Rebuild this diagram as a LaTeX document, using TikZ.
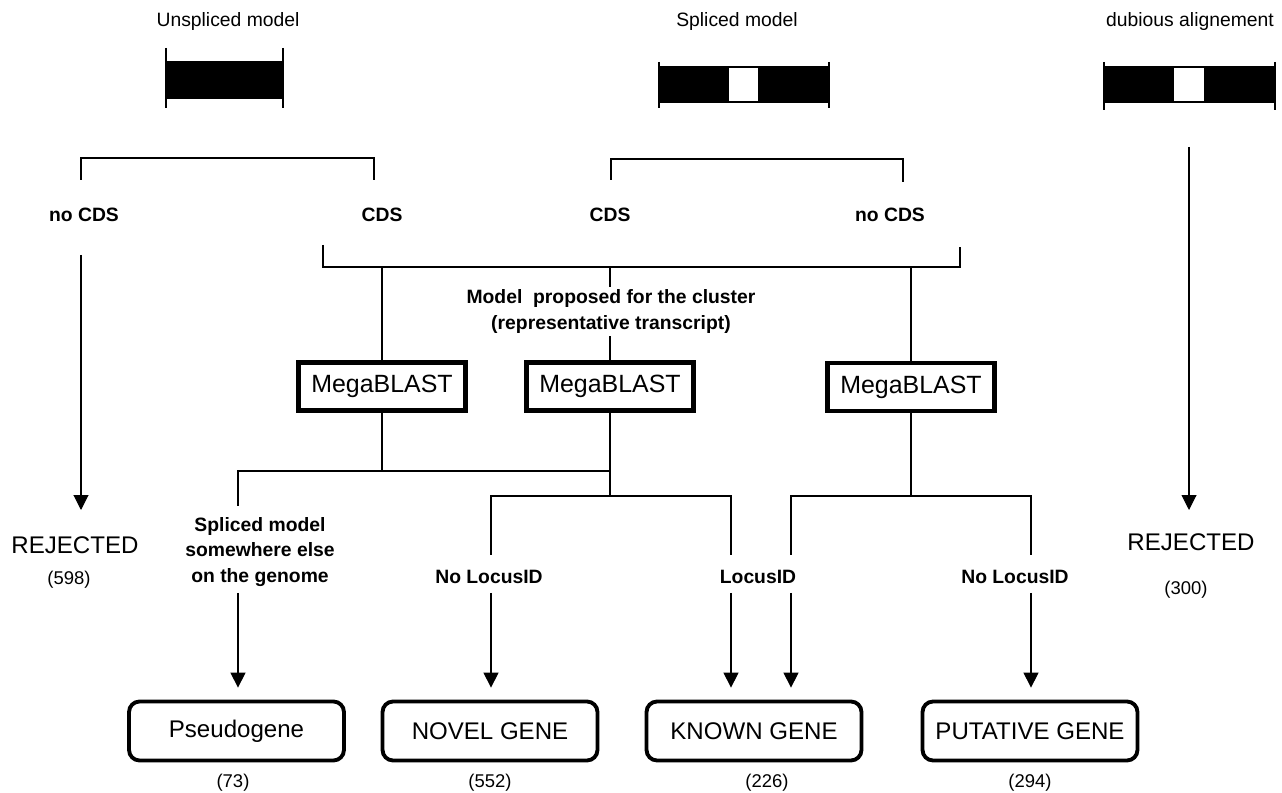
\documentclass[tikz,border=0pt]{standalone}
\usepackage{fontspec}
\setmainfont{Liberation Sans}
\usetikzlibrary{arrows.meta}
\begin{document}
\begin{tikzpicture}[x=0.02cm,y=-0.02cm,
  ln/.style={line width=0.6pt},
  arr/.style={line width=0.6pt,-{Triangle[width=8.5pt,length=8.5pt]}},
  toplabel/.style={font=\fontsize{11}{13}\selectfont, inner sep=1pt},
  blabel/.style={font=\fontsize{11}{14.7}\selectfont\bfseries, inner sep=1.5pt, align=center},
  mbbox/.style={draw, line width=2.8pt, minimum width=3.34cm, minimum height=0.96cm, inner sep=0pt, font=\fontsize{14.2}{16}\selectfont},
  genebox/.style={draw, line width=2.2pt, rounded corners=6pt, minimum width=4.3cm, minimum height=1.18cm, inner sep=0pt, font=\fontsize{13.7}{15}\selectfont},
  countlabel/.style={font=\fontsize{10.5}{12}\selectfont, inner sep=1pt},
  rejlabel/.style={font=\fontsize{13.7}{15}\selectfont, inner sep=1pt}
]
\fill[white] (0,0) rectangle (1282,793);
\useasboundingbox (0,0) rectangle (1282,793);

% top labels
\node[toplabel] (tU) at (228,22) {Unspliced model};
\node[toplabel] (tS) at (737,22) {Spliced model};
\node[toplabel] (tD) at (1190,22) {dubious alignement};

% model bars
\fill (166,61) rectangle (283,99);
\draw[ln] (166,48) -- (166,108) (283,48) -- (283,108);
\fill (659,66) rectangle (829,103);
\fill[white] (729,68) rectangle (758,101);
\draw[ln] (659,62) -- (659,108) (829,62) -- (829,108);
\fill (1104,66) rectangle (1275,103);
\fill[white] (1174,68) rectangle (1204,101);
\draw[ln] (1104,62) -- (1104,110) (1275,62) -- (1275,110);

% CDS labels
\node[blabel] (nc1) at (84,215) {no CDS};
\node[blabel] (c1) at (382,215) {CDS};
\node[blabel] (c2) at (610,215) {CDS};
\node[blabel] (nc2) at (890,215) {no CDS};

% brackets under bars
\draw[ln] (81,180) -- (81,158) -- (374,158) -- (374,180);
\draw[ln] (611,180) -- (611,159) -- (903,159) -- (903,182);

% rejected (left)
\coordinate (a1s) at (81,255);
\coordinate (a1e) at (81,510);
\draw[arr] (a1s) -- (a1e);
\node[rejlabel] (rej1) at (75,545) {REJECTED};
\node[countlabel] (n598) at (69,580) {(598)};

% rejected (right)
\coordinate (a2s) at (1189,147);
\coordinate (a2e) at (1189,510);
\draw[arr] (a2s) -- (a2e);
\node[rejlabel] (rej2) at (1191,542) {REJECTED};
\node[countlabel] (n300) at (1186,590) {(300)};

% MegaBLAST boxes
\node[mbbox] (mb1) at (382,386.5) {MegaBLAST};
\node[mbbox] (mb2) at (610,386.5) {MegaBLAST};
\node[mbbox] (mb3) at (911,387) {MegaBLAST};

% merge bracket
\draw[ln] (323,245) -- (323,267) -- (960,267) -- (960,247);
\draw[ln] (382,267) -- (mb1.north);
\draw[ln] (610,267) -- (mb2.north);
\draw[ln] (911,267) -- (mb3.north);
\node[blabel, fill=white] (model) at (611,311.5) {Model\ \ proposed for the cluster\\(representative transcript)};

% below MegaBLAST
\draw[ln] (mb1.south) -- (382,471);
\draw[ln] (mb2.south) -- (610,496);
\draw[ln] (238,506) -- (238,471) -- (610,471);
\draw[ln] (491,555) -- (491,496) -- (731,496) -- (731,555);
\draw[ln] (mb3.south) -- (911,496);
\draw[ln] (791,555) -- (791,496) -- (1031,496) -- (1031,555);

% branch labels
\node[blabel] (spl) at (260,552) {Spliced model\\somewhere else\\on the genome};
\node[blabel] (nl1) at (489,577) {No LocusID};
\node[blabel] (lid) at (758,577) {LocusID};
\node[blabel] (nl2) at (1015,577) {No LocusID};

% result boxes
\node[genebox] (pg) at (236.5,731) {Pseudogene};
\node[genebox] (ng) at (490,731) {NOVEL GENE};
\node[genebox] (kg) at (754,731) {KNOWN GENE};
\node[genebox] (pu) at (1030,731) {PUTATIVE GENE};

% arrows to result boxes
\coordinate (xa1) at (238,593);
\coordinate (xa2) at (491,593);
\coordinate (xa3) at (731,593);
\coordinate (xa4) at (791,593);
\coordinate (xa5) at (1031,593);
\draw[arr, shorten >=6.8pt] (xa1) -- (pg.north -| xa1);
\draw[arr, shorten >=6.8pt] (xa2) -- (ng.north -| xa2);
\draw[arr, shorten >=6.8pt] (xa3) -- (kg.north -| xa3);
\draw[arr, shorten >=6.8pt] (xa4) -- (kg.north -| xa4);
\draw[arr, shorten >=6.8pt] (xa5) -- (pu.north -| xa5);

% counts
\node[countlabel] (n73) at (233,783) {(73)};
\node[countlabel] (n552) at (490,783) {(552)};
\node[countlabel] (n226) at (767,783) {(226)};
\node[countlabel] (n294) at (1030,783) {(294)};
\end{tikzpicture}
\end{document}
